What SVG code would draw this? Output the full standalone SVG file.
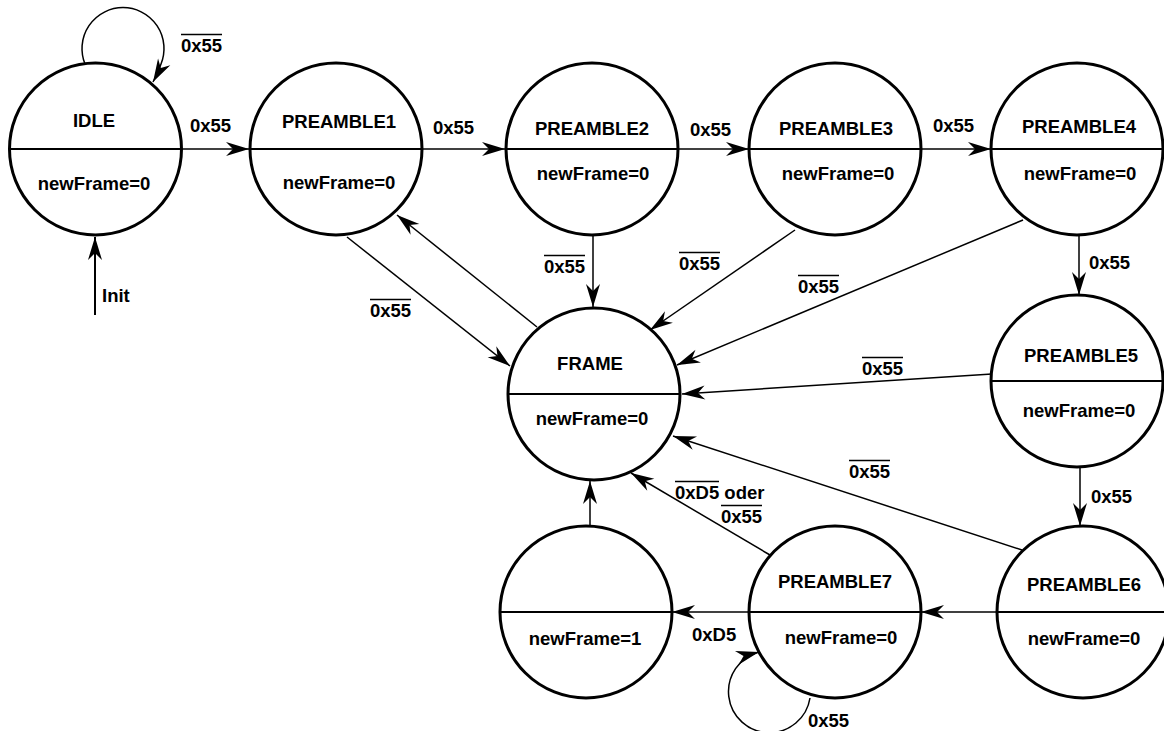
<svg xmlns="http://www.w3.org/2000/svg" width="1164" height="731" viewBox="0 0 1164 731">
  <style>
    .state { fill: #fff; stroke: #000; stroke-width: 3; }
    .div { stroke: #000; stroke-width: 2; }
    .t { font-family: "Liberation Sans", Arial, sans-serif; font-weight: bold; font-size: 18.5px; fill: #000; }
    .c { text-anchor: middle; }
    .edge { fill: none; stroke: #000; stroke-width: 1.5; marker-end: url(#arrow); }
    .bar { stroke: #000; stroke-width: 1.6; }
  </style>
  <defs>
    <marker id="arrow" markerUnits="userSpaceOnUse" viewBox="-24 -8 25 16" markerWidth="25" markerHeight="16" refX="0" refY="0" orient="auto">
      <path d="M0,0 L-23,-7 L-16,0 L-23,7 Z" fill="#000"/>
    </marker>
  </defs>
  <rect width="1164" height="731" fill="#fff"/>

  <!-- transitions -->
  <g id="connectors">
    <path class="edge" d="M85,64 A41,41 0 1 1 161,64 Q158,73 153,82"/>
    <path class="edge" d="M95,315 L95,237" style="stroke-width:2"/>
    <path class="edge" d="M182,149 L249,149"/>
    <path class="edge" d="M422,149 L505,149"/>
    <path class="edge" d="M678,149 L749,149"/>
    <path class="edge" d="M921,149 L991,149"/>
    <path class="edge" d="M1079,235 L1079,295"/>
    <path class="edge" d="M1080,467 L1080,526"/>
    <path class="edge" d="M997,612 L921,612"/>
    <path class="edge" d="M749,612 L672,612"/>
    <path class="edge" d="M347,237 L510,366"/>
    <path class="edge" d="M537,327 L397,215"/>
    <path class="edge" d="M593,235 L593,307"/>
    <path class="edge" d="M795,230 L650,330"/>
    <path class="edge" d="M1023,220 L677,365"/>
    <path class="edge" d="M992,374 L682,394"/>
    <path class="edge" d="M1022,550 L673,436"/>
    <path class="edge" d="M770,555 L631,473"/>
    <path class="edge" d="M590,526 L590,481"/>
    <path class="edge" d="M810,698 A41,41 0 1 1 759,652"/>
  </g>

  <!-- transition labels -->
  <g id="labels" class="t">
    <text x="181" y="52">0x55</text><line class="bar" x1="181" y1="34.5" x2="222" y2="34.5"/>
    <text x="190" y="132">0x55</text>
    <text x="433" y="134">0x55</text>
    <text x="690" y="136">0x55</text>
    <text x="933" y="132">0x55</text>
    <text x="1089" y="269">0x55</text>
    <text x="1091" y="503">0x55</text>
    <text x="370" y="317">0x55</text><line class="bar" x1="370" y1="299.5" x2="411" y2="299.5"/>
    <text x="544" y="273">0x55</text><line class="bar" x1="544" y1="255.5" x2="585" y2="255.5"/>
    <text x="679" y="270">0x55</text><line class="bar" x1="679" y1="252.5" x2="720" y2="252.5"/>
    <text x="798" y="293">0x55</text><line class="bar" x1="798" y1="275.5" x2="839" y2="275.5"/>
    <text x="862" y="375">0x55</text><line class="bar" x1="862" y1="357.5" x2="903" y2="357.5"/>
    <text x="849" y="478">0x55</text><line class="bar" x1="849" y1="460.5" x2="890" y2="460.5"/>
    <text x="675" y="499">0xD5 oder</text><line class="bar" x1="675" y1="481.5" x2="719" y2="481.5"/>
    <text x="721" y="523">0x55</text><line class="bar" x1="721" y1="505.5" x2="762" y2="505.5"/>
    <text x="692" y="641">0xD5</text>
    <text x="808" y="727">0x55</text>
    <text x="102" y="302">Init</text>
  </g>

  <!-- states -->
  <g id="idle">
    <circle class="state" cx="95.5" cy="149" r="86"/>
    <line class="div" x1="9.5" y1="149" x2="181.5" y2="149"/>
    <text class="t c" x="94" y="127">IDLE</text>
    <text class="t c" x="94" y="190">newFrame=0</text>
  </g>
  <g id="preamble1">
    <circle class="state" cx="336" cy="149" r="86"/>
    <line class="div" x1="250" y1="149" x2="422" y2="149"/>
    <text class="t c" x="339" y="128">PREAMBLE1</text>
    <text class="t c" x="339" y="189">newFrame=0</text>
  </g>
  <g id="preamble2">
    <circle class="state" cx="592" cy="149" r="86"/>
    <line class="div" x1="506" y1="149" x2="678" y2="149"/>
    <text class="t c" x="592" y="135">PREAMBLE2</text>
    <text class="t c" x="593" y="180">newFrame=0</text>
  </g>
  <g id="preamble3">
    <circle class="state" cx="835" cy="149" r="86"/>
    <line class="div" x1="749" y1="149" x2="921" y2="149"/>
    <text class="t c" x="836" y="135">PREAMBLE3</text>
    <text class="t c" x="838" y="180">newFrame=0</text>
  </g>
  <g id="preamble4">
    <circle class="state" cx="1077" cy="149" r="86"/>
    <line class="div" x1="991" y1="149" x2="1164" y2="149"/>
    <text class="t c" x="1079" y="133">PREAMBLE4</text>
    <text class="t c" x="1080" y="180">newFrame=0</text>
  </g>
  <g id="preamble5">
    <circle class="state" cx="1077" cy="381" r="86"/>
    <line class="div" x1="991" y1="381" x2="1164" y2="381"/>
    <text class="t c" x="1081" y="362">PREAMBLE5</text>
    <text class="t c" x="1079" y="417">newFrame=0</text>
  </g>
  <g id="frame">
    <circle class="state" cx="594" cy="394" r="86"/>
    <line class="div" x1="508" y1="394" x2="680" y2="394"/>
    <text class="t c" x="590" y="370">FRAME</text>
    <text class="t c" x="592" y="425">newFrame=0</text>
  </g>
  <g id="preamble6">
    <circle class="state" cx="1083" cy="612" r="86"/>
    <line class="div" x1="997" y1="612" x2="1164" y2="612"/>
    <text class="t c" x="1084" y="591">PREAMBLE6</text>
    <text class="t c" x="1084" y="645">newFrame=0</text>
  </g>
  <g id="preamble7">
    <circle class="state" cx="835" cy="612" r="86"/>
    <line class="div" x1="749" y1="612" x2="921" y2="612"/>
    <text class="t c" x="835" y="588">PREAMBLE7</text>
    <text class="t c" x="841" y="644">newFrame=0</text>
  </g>
  <g id="newframe">
    <circle class="state" cx="586" cy="612" r="86"/>
    <line class="div" x1="500" y1="612" x2="672" y2="612"/>
    <text class="t c" x="585" y="645">newFrame=1</text>
  </g>
</svg>
